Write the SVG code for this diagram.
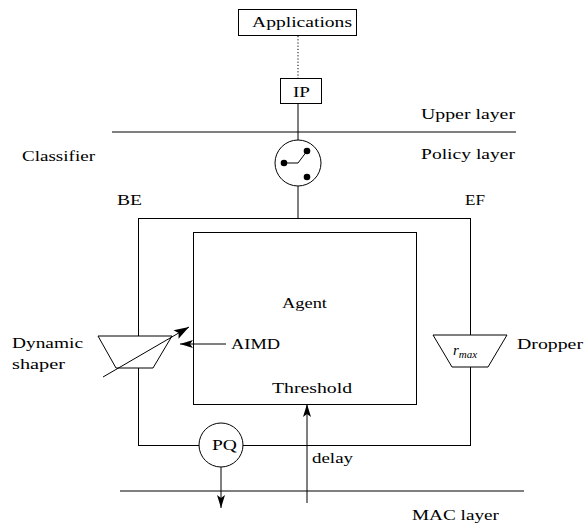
<svg xmlns="http://www.w3.org/2000/svg" width="584" height="528" viewBox="0 0 584 528" font-family="Liberation Serif, Times New Roman, serif">
<style>
text{font-size:15px;fill:#000}
.ln{stroke:#000;stroke-width:1;fill:none}
.sh{stroke:#000;stroke-width:1;fill:#fff}
</style>
<defs>
<marker id="ah" markerUnits="userSpaceOnUse" markerWidth="14" markerHeight="8" refX="13" refY="4" orient="auto" overflow="visible">
<path d="M0,0 L13,4 L0,8 L3,4 Z" fill="#000"/>
</marker>
<marker id="ahb" markerUnits="userSpaceOnUse" markerWidth="16" markerHeight="10" refX="15" refY="5" orient="auto" overflow="visible">
<path d="M0,0 L15,5 L0,10 L3,5 Z" fill="#000"/>
</marker>
</defs>
<rect width="584" height="528" fill="#fff"/>
<g id="layers">
<line class="ln" x1="112" y1="132" x2="516" y2="132"/>
<line class="ln" x1="120" y1="491" x2="524" y2="491"/>
<text x="421" y="119" font-family="Liberation Serif" textLength="94" lengthAdjust="spacingAndGlyphs">Upper layer</text>
<text x="421" y="159" textLength="94" lengthAdjust="spacingAndGlyphs">Policy layer</text>
<text x="412" y="520" textLength="87" lengthAdjust="spacingAndGlyphs">MAC layer</text>
</g>
<g id="connectors">
<line class="ln" x1="298" y1="36" x2="298" y2="78" stroke-dasharray="1.2,2"/>
<line class="ln" x1="298" y1="104" x2="298" y2="140"/>
<line class="ln" x1="298" y1="186" x2="298" y2="218"/>
<rect class="ln" x="138.5" y="218.5" width="332" height="227"/>
<line class="ln" x1="221" y1="467" x2="221" y2="508" marker-end="url(#ah)"/>
<line class="ln" x1="307" y1="503" x2="307" y2="404" marker-end="url(#ah)"/>
<line class="ln" x1="226" y1="344" x2="180" y2="344" marker-end="url(#ah)"/>
</g>
<g id="applications">
<rect class="sh" x="238.5" y="9.5" width="118" height="26"/>
<text x="252" y="27" textLength="100" lengthAdjust="spacingAndGlyphs">Applications</text>
</g>
<g id="ip">
<rect class="sh" x="280.5" y="78.5" width="41" height="25"/>
<text x="293" y="97" textLength="17" lengthAdjust="spacingAndGlyphs">IP</text>
</g>
<g id="classifier">
<circle class="sh" cx="298" cy="163" r="23"/>
<polyline class="ln" points="284,163 298,163 307,151"/>
<circle cx="284" cy="163" r="3.3" fill="#000"/>
<circle cx="307" cy="151" r="3.3" fill="#000"/>
<circle cx="307" cy="177" r="3.3" fill="#000"/>
<text x="22" y="161" textLength="73" lengthAdjust="spacingAndGlyphs">Classifier</text>
</g>
<g id="be"><text x="117" y="205" textLength="25" lengthAdjust="spacingAndGlyphs">BE</text></g>
<g id="ef"><text x="465" y="205" textLength="20" lengthAdjust="spacingAndGlyphs">EF</text></g>
<g id="agent">
<rect class="ln" x="193.5" y="232.5" width="223" height="172"/>
<text x="282" y="308" textLength="45" lengthAdjust="spacingAndGlyphs">Agent</text>
<text x="272" y="393" textLength="80" lengthAdjust="spacingAndGlyphs">Threshold</text>
</g>
<g id="aimd"><text x="231" y="349" textLength="49" lengthAdjust="spacingAndGlyphs">AIMD</text></g>
<g id="shaper">
<polygon class="sh" points="98,336 172,336 153,368 116,368"/>
<line class="ln" x1="103" y1="377" x2="189" y2="327" marker-end="url(#ahb)"/>
<text x="12" y="348" textLength="71" lengthAdjust="spacingAndGlyphs">Dynamic</text>
<text x="12" y="369" textLength="53" lengthAdjust="spacingAndGlyphs">shaper</text>
</g>
<g id="dropper">
<polygon class="sh" points="433,335 507,335 488,367 452,367"/>
<text x="453" y="355" font-style="italic">r<tspan font-size="11" dy="3">max</tspan></text>
<text x="517" y="349" textLength="66" lengthAdjust="spacingAndGlyphs">Dropper</text>
</g>
<g id="pq">
<circle class="sh" cx="221" cy="445" r="22"/>
<text x="212" y="450" textLength="25" lengthAdjust="spacingAndGlyphs">PQ</text>
</g>
<g id="delay"><text x="312" y="463" textLength="41" lengthAdjust="spacingAndGlyphs">delay</text></g>
</svg>
